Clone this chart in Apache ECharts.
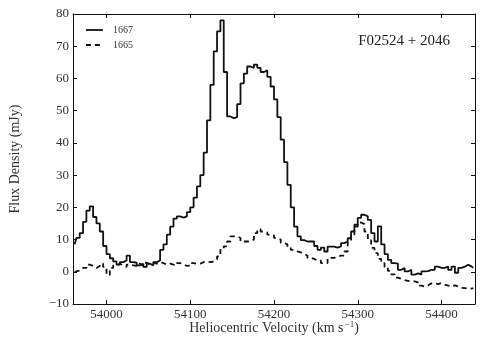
<!DOCTYPE html>
<html>
<head>
<meta charset="utf-8">
<script src="https://cdn.jsdelivr.net/npm/echarts@6/dist/echarts.min.js"></script>
<style>
  html, body { margin: 0; padding: 0; background: #fff; }
  #chart { width: 485px; height: 358px; }
</style>
</head>
<body>
<div id="chart"></div>
<script>
// channel centres (km/s)
const velocity = [
  53962, 53966, 53970, 53974, 53978, 53982, 53986, 53990, 53994, 53998,
  54002, 54006, 54010, 54014, 54018, 54022, 54026, 54030, 54034, 54038,
  54042, 54046, 54050, 54054, 54058, 54062, 54066, 54070, 54074, 54078,
  54082, 54086, 54090, 54094, 54098, 54102, 54106, 54110, 54114, 54118,
  54122, 54126, 54130, 54134, 54138, 54142, 54146, 54150, 54154, 54158,
  54162, 54166, 54170, 54174, 54178, 54182, 54186, 54190, 54194, 54198,
  54202, 54206, 54210, 54214, 54218, 54222, 54226, 54230, 54234, 54238,
  54242, 54246, 54250, 54254, 54258, 54262, 54266, 54270, 54274, 54278,
  54282, 54286, 54290, 54294, 54298, 54302, 54306, 54310, 54314, 54318,
  54322, 54326, 54330, 54334, 54338, 54342, 54346, 54350, 54354, 54358,
  54362, 54366, 54370, 54374, 54378, 54382, 54386, 54390, 54394, 54398,
  54402, 54406, 54410, 54414, 54418, 54422, 54426, 54430, 54434, 54438
];

const flux1667 = [
  8.5, 10.5, 12, 15.5, 19, 20.3, 17, 15, 12.5, 8,
  5.5, 4.2, 3.2, 2.2, 3, 3.5, 5, 3, 2.8, 2,
  2.5, 1.5, 2.5, 2, 3, 3.5, 6.8, 8.5, 11.5, 14,
  16.5, 17.2, 16.8, 17.2, 18.5, 20, 23, 26.5, 30, 37,
  47, 58, 68.4, 74.6, 78, 62, 48.2, 47.7, 48, 52,
  58.5, 61.5, 63.7, 63.3, 64.3, 63.3, 62, 62.5, 60.5, 57.5,
  53.5, 48, 41, 34, 27, 20, 14, 11, 9.8, 9.4,
  9.4, 9.4, 8, 6.8, 7.5, 6.3, 7.8, 7.8, 7.5, 7.9,
  8.9, 9.4, 10.4, 12.5, 14.6, 16.7, 17.7, 17.2, 16.1, 12,
  9.4, 14.1, 8.5, 5.5, 3.7, 2.7, 2.5, 0.6, 1.2, 0.1,
  0.6, -0.9, -0.5, -0.9, 0.1, 0.2, 0.6, 0.6, 1.6, 1.2,
  1.2, 1.6, 0.6, 1.6, -0.3, 1.2, 1.6, 2.2, 1.6, 1.2
];

const flux1665 = [
  0, 0.3, 0.5, 1.2, 2.2, 1.8, 1.2, 1.8, 2.5, 1.5,
  -1, 1.2, 2, 2.5, 2, 1.5, 2.2, 2, 1.8, 2.5,
  2, 2.8, 2.2, 2.8, 2.5, 3, 2.7, 2.2, 2.5, 2.2,
  2, 2.7, 2.3, 1.8, 1.9, 2.7, 2.5, 2.5, 3, 3.2,
  3, 3.2, 3.8, 4.8, 6.8, 7.9, 9.4, 11, 11, 10.5,
  9.4, 9.4, 9.4, 10, 12, 13.2, 12.5, 12.2, 11.5, 11.3,
  10.5, 10, 9, 8.5, 7.6, 6.8, 6.3, 6, 5.6, 5,
  4.3, 4, 3.5, 3.5, 2.7, 2.7, 4.3, 4.3, 4.8, 5,
  5, 6.3, 9.4, 11.5, 14, 15.3, 14.8, 12.5, 9.8, 7.4,
  5.8, 4, 2.7, 1.5, 0.3, -0.8, -1.8, -2.2, -2.6, -2.8,
  -3, -3, -3.3, -4.3, -4.6, -4.2, -3.6, -3.5, -3.8, -3.5,
  -4, -4.3, -4.6, -4.2, -4.6, -5, -5.1, -5, -5.2, -5.1
];

const seriesNames = ["1667", "1665"];
const xTicks = [54000, 54100, 54200, 54300, 54400];

const serif = "'Liberation Serif', 'DejaVu Serif', serif";
const dashPattern = [5, 4];

let chart = echarts.init(document.getElementById("chart"), null, { renderer: "canvas" });

const pairs = (ys) => velocity.map((v, i) => [v, ys[i]]);

// ticks inside, on all four sides like the matplotlib frame
const frameX = (pos, labels) => ({
  type: "value",
  position: pos,
  min: 53960,
  max: 54440,
  interval: 100,
  axisLine: { show: true, onZero: false, lineStyle: { color: "#111", width: 1 } },
  axisTick: {
    show: true, inside: true, length: 4, lineStyle: { color: "#111" },
    customValues: xTicks
  },
  axisLabel: labels
    ? {
        show: true, customValues: xTicks, color: "#333", fontFamily: serif, fontSize: 13, margin: 4,
        formatter: (v) => String(v)
      }
    : { show: false },
  splitLine: { show: false }
});

const frameY = (pos, labels) => ({
  type: "value",
  position: pos,
  min: -10,
  max: 80,
  interval: 10,
  axisLine: { show: true, onZero: false, lineStyle: { color: "#111", width: 1 } },
  axisTick: { show: true, inside: true, length: 4, lineStyle: { color: "#111" } },
  axisLabel: labels
    ? {
        show: true, color: "#333", fontFamily: serif, fontSize: 13, margin: 4,
        formatter: (v) => (v < 0 ? "\u2212" + Math.abs(v) : String(v))
      }
    : { show: false },
  splitLine: { show: false }
});

let xBottom = frameX("bottom", true);
xBottom.name = "{t|Heliocentric Velocity (km s}{s|\u22121}{t|)}";
xBottom.nameLocation = "middle";
xBottom.nameGap = 16;
xBottom.nameMoveOverlap = false;
xBottom.nameTextStyle = {
  rich: {
    t: { fontFamily: serif, fontSize: 14, color: "#333" },
    s: { fontFamily: serif, fontSize: 9, color: "#333", verticalAlign: "top", padding: [0, 0, 8, 1] }
  }
};

let yLeft = frameY("left", true);
yLeft.name = "Flux Density (mJy)";
yLeft.nameLocation = "middle";
yLeft.nameGap = 51;
yLeft.nameTextStyle = { fontFamily: serif, fontSize: 14, color: "#333" };

let option = {
  animation: false,
  backgroundColor: "#fff",
  title: {
    text: "F02524 + 2046",
    right: 30,
    top: 29,
    textStyle: { fontFamily: serif, fontSize: 15, fontWeight: "normal", color: "#222" }
  },
  legend: {
    orient: "vertical",
    left: 80,
    top: 20,
    itemWidth: 17,
    itemHeight: 10,
    itemGap: 5,
    itemStyle: { color: "transparent", borderWidth: 0 },
    data: [
      { name: seriesNames[0], lineStyle: { color: "#111", width: 1.8, type: "solid" } },
      { name: seriesNames[1], lineStyle: { color: "#111", width: 1.8, type: dashPattern } }
    ],
    textStyle: { fontFamily: serif, fontSize: 10, color: "#333", padding: [0, 0, 0, 5] }
  },
  grid: { left: 71, top: 14, width: 404, height: 290 },
  xAxis: [xBottom, frameX("top", false)],
  yAxis: [yLeft, frameY("right", false)],
  series: [
    {
      name: seriesNames[0],
      type: "line",
      step: "middle",
      symbol: "none",
      data: pairs(flux1667),
      lineStyle: { color: "#111", width: 1.8, type: "solid" },
      itemStyle: { color: "#111" },
      z: 3
    },
    {
      name: seriesNames[1],
      type: "line",
      step: "middle",
      symbol: "none",
      data: pairs(flux1665),
      lineStyle: { color: "#111", width: 1.8, type: dashPattern },
      itemStyle: { color: "#111" },
      z: 2
    }
  ]
};

chart.setOption(option);
</script>
</body>
</html>
